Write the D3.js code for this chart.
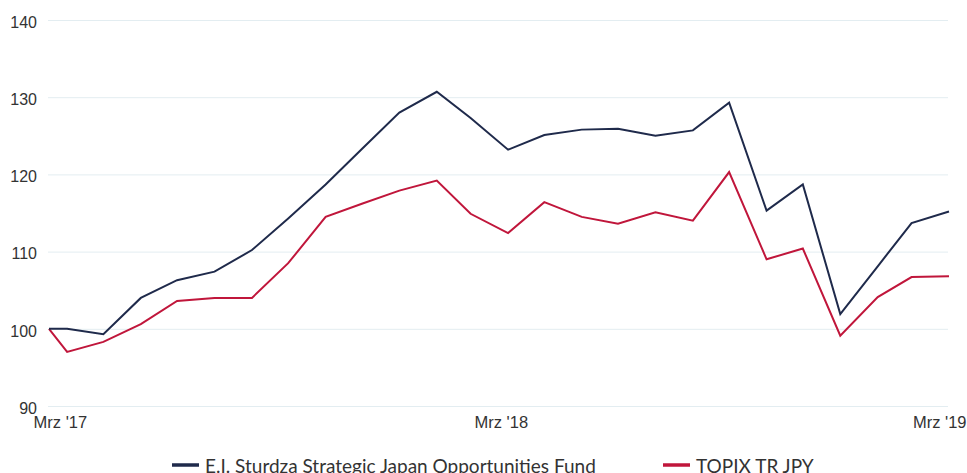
<!DOCTYPE html>
<html>
<head>
<meta charset="utf-8">
<script src="https://cdn.jsdelivr.net/npm/d3@7"></script>
<style>
  body { margin: 0; background: #fff; }
  svg { display: block; font-family: Lato, "Noto Sans", sans-serif; }
  .grid line { stroke: #e3edf1; stroke-width: 1; }
  .axis text { fill: #333; font-size: 16px; }
</style>
</head>
<body>
<div id="chart"></div>
<script>
/* Fund vs TOPIX line chart, indexed to 100 */

const width = 967, height = 473,
    margin = ({ top: 20, right: 18, bottom: 67, left: 49 });

// data (month-end values, first point is the start date)
const dates = ["2017-03-16", "2017-03-31", "2017-04-30", "2017-05-31", "2017-06-30", "2017-07-31",
    "2017-08-31", "2017-09-30", "2017-10-31", "2017-11-30", "2017-12-31", "2018-01-31",
    "2018-02-28", "2018-03-31", "2018-04-30", "2018-05-31", "2018-06-30", "2018-07-31",
    "2018-08-31", "2018-09-30", "2018-10-31", "2018-11-30", "2018-12-31", "2019-01-31",
    "2019-02-28", "2019-03-31"];
const fund = [100, 100, 99.3, 104.0, 106.3, 107.4, 110.2, 114.3, 118.7, 123.3, 128.0, 130.7,
    127.3, 123.2, 125.1, 125.8, 125.9, 125.0, 125.7, 129.3, 115.3, 118.7, 101.9, 108.1, 113.7, 115.2];
const topix = [100, 97.0, 98.3, 100.6, 103.6, 104.0, 104.0, 108.5, 114.5, 116.2, 117.9, 119.2,
    114.9, 112.4, 116.4, 114.5, 113.6, 115.1, 114.0, 120.3, 109.0, 110.4, 99.1, 104.1, 106.7, 106.8];
const seriesNames = ["E.I. Sturdza Strategic Japan Opportunities Fund", "TOPIX TR JPY"];
const colors = ["#1f2a4b", "#c0163b"];
const yTicks = [90, 100, 110, 120, 130, 140];
const xTickDates = ["2017-03-25", "2018-03-25", "2019-03-25"];
const xTickLabels = ["Mrz '17", "Mrz '18", "Mrz '19"];

const parse = d3.timeParse("%Y-%m-%d");
const dateVals = dates.map(parse);
const series = [fund, topix].map((vals, i) => ({
    name: seriesNames[i],
    color: colors[i],
    values: vals.map((v, j) => ({ date: dateVals[j], value: v }))
}));

const svg = d3.select("#chart")
    .append("svg")
    .attr("width", width)
    .attr("height", height);

let x = d3.scaleTime()
    .domain(d3.extent(dateVals))
    .range([margin.left, width - margin.right]);

let y = d3.scaleLinear()
    .domain([90, 140])
    .range([height - margin.bottom, margin.top]);

// horizontal grid + y labels
svg.append("g")
    .attr("class", "grid axis")
    .attr("transform", `translate(${margin.left - 1},0)`)
    .call(d3.axisLeft(y)
        .tickValues(yTicks)
        .tickSize(-(width - margin.left - margin.right))
        .tickPadding(11))
    .call(g => g.select(".domain").remove())
    .call(g => g.selectAll("text").attr("dy", "0.45em"));

// x labels
const xAxis = svg.append("g")
    .attr("class", "axis")
    .attr("transform", `translate(0,${height - margin.bottom})`)
    .call(d3.axisBottom(x)
        .tickValues(xTickDates.map(parse))
        .tickFormat((d, i) => xTickLabels[i])
        .tickSize(0)
        .tickPadding(10))
    .call(g => g.select(".domain").remove())
    .call(g => g.selectAll("text").style("font-size", "16.5px"));

// keep the last label inside the page (pushed left like the original)
xAxis.selectAll(".tick").each(function (d) {
    const t = d3.select(this).select("text");
    const box = this.getBBox();
    const right = x(d) + box.x + box.width;
    if (right > width - 1) t.attr("x", (width - 1) - right);
});

let line = d3.line()
    .x(d => x(d.date))
    .y(d => y(d.value));

svg.selectAll(".series")
    .data(series.slice().reverse())
    .join("path")
    .attr("class", "series")
    .attr("d", d => line(d.values))
    .attr("fill", "none")
    .attr("stroke", d => d.color)
    .attr("stroke-width", 2)
    .attr("stroke-linejoin", "miter");

// legend (bottom edge cuts it, as in the original)
const legendX = [172, 663];
const legend = svg.append("g")
    .selectAll("g")
    .data(series)
    .join("g")
    .attr("transform", (d, i) => `translate(${legendX[i]},465)`);

legend.append("line")
    .attr("x1", 0).attr("x2", 27)
    .attr("stroke", d => d.color)
    .attr("stroke-width", 3.5);

legend.append("text")
    .attr("x", 33)
    .attr("y", 7.5)
    .attr("fill", "#333")
    .style("font-size", "19px")
    .text(d => d.name);
</script>
</body>
</html>
